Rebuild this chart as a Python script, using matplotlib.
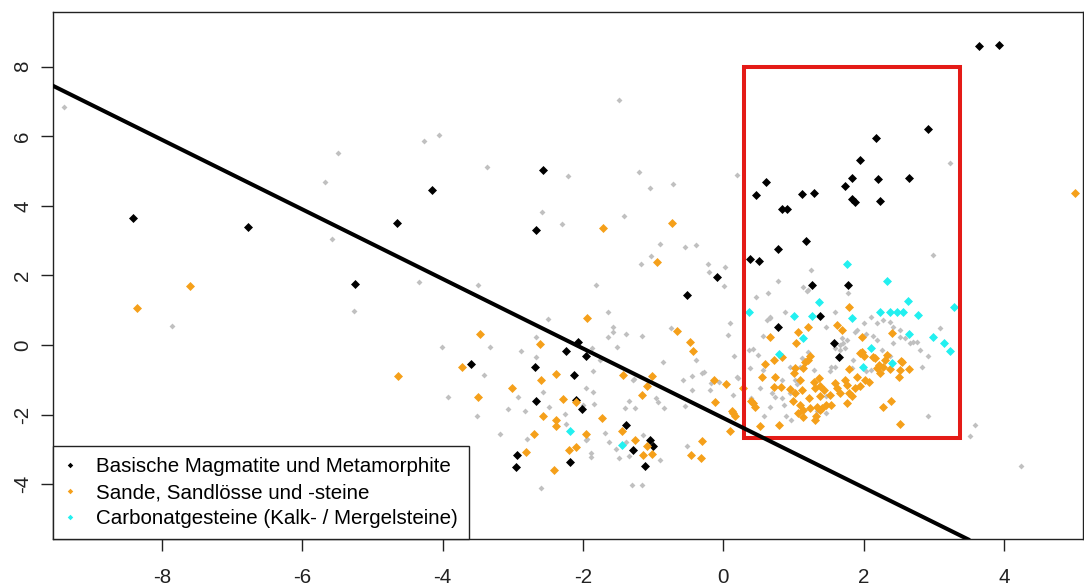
import matplotlib
matplotlib.use("Agg")
import matplotlib.pyplot as plt
from matplotlib.lines import Line2D
from matplotlib.patches import Rectangle

plt.rcParams['font.family'] = ['Liberation Sans', 'DejaVu Sans']

# ---- data -------------------------------------------------------------
other_x = [-9.39, -5.49, -5.67, -5.58, -7.86, -5.26,
           -4.26, -4.05, -3.37, -1.49, -2.22, -2.58, -2.30, -1.20, -1.05, -0.71, -1.41, 0.20,
           -0.90, -0.54, -0.39, -1.03, -1.18, -0.22, -0.20, 0.02, 0.01, -4.33, -3.50, -1.82,
           3.23, 2.99, 1.25, 0.78, 0.63, 0.46, 1.20, 1.78,
           3.59, 3.52, 4.24, 2.91, 0.10, 0.06, 0.15, 0.21, 0.43, 0.50, 0.57, 0.57, 0.52, 0.40,
           0.67, 0.74, 0.86, 0.90, 0.97, 0.83, 0.95, 1.05, 0.69, 0.83, 0.62, 0.67, 0.88, 1.14,
           1.19, 1.59, 1.47, 1.69, 1.71, 1.73, 1.66, 1.76, 1.59, 1.52, 1.47, 1.33, 1.12, 1.21,
           1.09, 0.95, 1.02, 1.29, 1.90, 2.00, 2.11, 2.19, 2.28, 2.38, 2.42, 2.52, 2.59, 2.71,
           2.80, 2.92, 2.83, 3.09, 2.04, 2.19, 2.42, 2.26, 2.11, 2.38, 1.85, 1.83, 1.59,
           -0.39, -0.28, 0.19, -0.45, -0.17, -0.44, 0.14, 0.66, 0.37, 0.38, 0.58,
           1.88, 2.76, 2.66, 2.52, 2.14, 1.66, 1.54, 1.47, 2.04,
           -4.01, -3.92, -3.51, -3.41, -3.33, -3.18, -3.07, -2.92, -2.88, -2.80, -2.83, -2.67,
           -2.57, -2.50, -2.48, -2.60, -2.24, -1.96, -1.86, -1.89, -1.89, -1.94, -2.00, -1.65,
           -1.57, -1.57, -1.38, -1.65, -1.52, -1.76, -1.27, -1.35, -1.40, -1.26, -1.69, -1.63,
           -1.53, -1.49, -1.34, -1.38, -1.14, -1.30, -1.16, -0.90, -0.96, -0.84, -0.86, -0.75,
           -0.58, -0.55, -0.52, -0.31, -0.19, -0.06,
           -2.67, -2.26, -1.95, -1.16, -1.87, -1.86, -1.84, -1.28, -0.93]
other_y = [6.85, 5.52, 4.69, 3.06, 0.54, 0.97,
           5.87, 6.05, 5.11, 7.05, 4.85, 3.82, 3.48, 4.96, 4.50, 4.62, 3.70, 4.88,
           2.91, 2.83, 2.87, 2.56, 2.34, 2.34, 2.11, 2.23, 1.69, 1.81, 1.73, 1.73,
           5.22, 2.60, 2.15, 1.84, 1.50, 1.37, 1.58, 1.50,
           -2.29, -2.63, -3.47, -2.03, 0.62, 0.29, -0.33, -0.95, -0.12, -0.29, 0.26, -0.72, -1.24, -1.53,
           -1.77, -1.50, -1.72, -2.05, -2.15, -1.53, -1.38, -1.12, -1.38, -1.00, 0.72, 0.81, 0.95, 1.67,
           1.55, 0.95, 0.52, 0.19, 0.05, -0.10, -0.14, 0.14, -0.62, -0.76, -1.48, -1.91, -0.38, -0.19,
           -0.64, -0.62, -1.00, -0.72, 0.43, 0.62, 0.81, 0.62, 0.72, 0.67, 0.52, 0.24, 0.19, 0.10,
           -0.14, -0.33, -0.62, 0.48, 0.33, 0.14, 0.05, -0.14, -0.72, -0.33, -0.43, -0.67, -0.10,
           -0.43, -0.79, -0.93, -0.89, -1.10, -1.29, -1.43, 0.77, -0.14, -0.67, -2.05,
           0.38, 0.10, 0.07, 0.43, 0.26, 0.00, -0.62, -1.96, -0.76,
           -0.05, -1.50, -2.05, -0.86, -0.05, -2.56, -1.84, -1.50, -0.16, -2.70, -1.91, 0.22,
           -1.34, 0.75, -1.79, -4.12, -2.27, -1.24, -0.74, -3.10, -3.22, -2.70, -1.72, 0.94,
           0.52, 0.38, 0.31, 0.22, -0.05, -0.43, -0.98, -1.60, -1.80, -1.80, -2.52, -2.80,
           -2.99, -3.25, -3.20, -2.79, -2.60, -4.04, -4.04, -3.32, -1.51, -1.80, -0.48, 0.48,
           -1.00, -1.75, -2.91, -0.81, -1.29, -1.05,
           -0.35, -1.99, -2.72, 0.26, -0.10, -1.34, -1.69, -1.00, -1.65]

basic_x = [-8.41, -6.78, -5.25, -4.65, -4.15, -2.57, -2.67, -3.60, -2.68, -2.67, -2.24, -2.07,
           -1.95, -2.13, -2.10, -2.01, -2.94, -2.96, -2.18, -1.39, -1.29, -1.04, -1.00, -1.11,
           -0.52, -0.09,
           3.65, 3.93, 2.91, 2.18, 1.95, 0.61, 0.46, 1.12, 1.29, 1.74, 1.84, 2.20, 2.65, 1.83,
           1.88, 2.23, 0.83, 0.91, 1.18, 0.78, 0.38, 0.51, 1.27, 1.78, 1.38, 0.78, 1.58, 1.65]
basic_y = [3.64, 3.38, 1.75, 3.50, 4.47, 5.04, 3.32, -0.54, -0.62, -1.61, -0.16, 0.09,
           -0.33, -0.85, -1.58, -1.84, -3.17, -3.52, -3.36, -2.30, -3.03, -2.72, -2.91, -3.47,
           1.43, 1.96,
           8.60, 8.64, 6.21, 5.95, 5.33, 4.69, 4.31, 4.35, 4.38, 4.58, 4.81, 4.77, 4.81, 4.19,
           4.11, 4.15, 3.90, 3.90, 2.99, 2.76, 2.46, 2.42, 1.73, 1.73, 0.83, 0.51, 0.07, -0.35]

sand_x = [-8.36, -7.60, -4.64, 5.01, -1.71, -0.73, -0.95,
          -1.94, -3.47, -2.61, -3.73, -3.49, -3.01, -2.60, -2.39, -2.28, -2.10, -2.57, -2.39,
          -2.39, -2.70, -2.81, -2.42, -2.20, -2.10, -1.96, -1.73, -1.44, -1.26, -1.09, -1.14,
          -1.01, -1.43, -1.16, -1.09, -1.01, -0.66, -0.48, -0.43, -0.13, 0.04, -0.12, 0.12,
          0.17, 0.10, -0.30, -0.46, -0.32,
          0.52, 0.80, 0.43, 0.55, 0.60, 0.72, 0.67, 0.72, 0.82, 1.01, 1.04, 1.06, 1.20, 1.14,
          1.20, 1.24, 1.12, 1.22, 1.09, 1.07, 1.14, 1.31, 1.24, 1.33, 1.40, 1.47, 1.54, 1.38,
          1.29, 1.38, 1.43, 1.31, 1.59, 1.62, 1.66, 1.73, 1.76, 1.79, 1.76, 1.83, 1.88, 1.90,
          1.79, 1.95, 2.02, 2.07, 1.95, 2.00, 1.97, 2.16, 2.19, 2.23, 2.28, 2.30, 2.33, 2.27,
          2.39, 2.52, 2.50, 2.54, 2.64, 2.52, 2.40, 1.79, 1.62, 1.69, 0.83, 0.74, 0.99, 1.52,
          1.38, 0.14, 0.28, 0.40, 0.45, 1.16, 0.95, 1.09, 1.02, 1.14, 1.32, 1.36, 1.02, 1.97,
          2.14, 2.22, 2.53, 2.38]
sand_y = [1.06, 1.69, -0.89, 4.36, 3.36, 3.52, 2.38,
          0.78, 0.32, 0.02, -0.63, -1.50, -1.24, -1.00, -0.82, -1.55, -1.65, -2.03, -2.17,
          -2.34, -2.56, -3.09, -3.59, -3.03, -2.94, -2.56, -2.10, -2.46, -2.72, -2.91, -3.15,
          -3.14, -0.86, -1.43, -1.17, -0.90, 0.40, 0.10, -0.17, -1.00, -1.13, -1.65, -1.91,
          -2.03, -2.46, -2.76, -3.17, -3.26,
          -2.34, -2.29, -1.67, -0.93, -0.54, -0.43, 0.22, -1.21, -1.21, -0.81, 0.05, 0.38, 0.52, -0.67,
          -0.43, -0.33, -1.29, -1.53, -1.72, -1.96, -2.07, -2.15, -1.81, -1.77, -1.81, -1.72, -1.72, -1.86,
          -1.05, -1.17, -1.29, -1.24, -1.10, -1.24, -1.38, -1.00, -1.15, -1.38, -1.67, -1.48, -1.24, -0.91,
          -0.70, -1.17, -1.00, -1.05, -0.24, -0.33, 0.24, -0.38, -0.67, -0.81, -0.64, -0.43, -0.29, -1.77,
          -1.62, -2.26, -0.93, -0.48, -0.70, -0.72, 0.35, 1.10, 0.57, 0.43, -0.35, -0.91, -1.62, -1.43,
          -1.48, -1.96, -1.24, -1.62, -1.77, -0.48, -1.27, -1.02, -1.37, -1.86, -2.05, -0.95, -0.67, -0.19,
          -0.35, -0.57, -0.45, -0.70]

carb_x = [-2.18, -1.44, 1.76, 2.33, 1.36, 2.63, 3.29, 2.23, 2.38, 2.47, 2.56, 2.78, 1.84,
          1.27, 1.01, 0.36, 1.14, 0.80, 2.65, 2.99, 3.14, 3.23, 2.10, 1.99, 2.41]
carb_y = [-2.46, -2.87, 2.34, 1.84, 1.23, 1.27, 1.08, 0.95, 0.95, 0.95, 0.95, 0.86, 0.79,
          0.83, 0.83, 0.95, 0.19, -0.26, 0.32, 0.24, 0.05, -0.17, -0.10, -0.64, -0.51]

group_labels = ["Basische Magmatite und Metamorphite",
                "Sande, Sandlösse und -steine",
                "Carbonatgesteine (Kalk- / Mergelsteine)"]

# separating line y = a + b*x and the highlighted window
line_a, line_b = -2.1, -1.0
box_x0, box_x1 = 0.3, 3.38
box_y0, box_y1 = -2.67, 8.0

xticks = [-8, -6, -4, -2, 0, 2, 4]
yticks = [-4, -2, 0, 2, 4, 6, 8]

# ---- styling ----------------------------------------------------------
col_other = "#c0c0c0"
col_basic = "#000000"
col_sand = "#f5a01a"
col_carb = "#22f0f0"
col_box = "#e41b17"

W, H = 1084, 588
fig = plt.figure(figsize=(W / 100, H / 100), dpi=100)
ax = fig.add_axes([52.7 / W, 1 - 539.3 / H, (1083 - 52.7) / W, (539.3 - 12.3) / H])

ax.scatter(other_x, other_y, marker="D", s=9, color=col_other, linewidths=0, zorder=2)
ax.scatter(basic_x, basic_y, marker="D", s=21, color=col_basic, linewidths=0, zorder=3)
ax.scatter(sand_x, sand_y, marker="D", s=21, color=col_sand, linewidths=0, zorder=4)
ax.scatter(carb_x, carb_y, marker="D", s=21, color=col_carb, linewidths=0, zorder=5)

ax.add_patch(Rectangle((box_x0, box_y0), box_x1 - box_x0, box_y1 - box_y0,
                       fill=False, edgecolor=col_box, linewidth=2.9, zorder=6,
                       joinstyle="miter"))
ax.axline((0, line_a), slope=line_b, color="black", linewidth=2.9, zorder=7)

ax.set_xlim(-9.557, 5.126)
ax.set_ylim(-5.587, 9.566)
ax.set_xticks(xticks)
ax.set_yticks(yticks)
ax.set_xticklabels([str(v) for v in xticks])
ax.set_yticklabels([str(v) for v in yticks], rotation=90, va="center")

for sp in ax.spines.values():
    sp.set_linewidth(1.0)
    sp.set_color("#222222")
ax.tick_params(axis="both", length=8.8, width=1.0, color="#222222",
               labelsize=14.8, labelcolor="#222222")
ax.tick_params(axis="x", pad=12)
ax.tick_params(axis="y", pad=6)

handles = [Line2D([], [], linestyle="none", marker="D", markersize=2.8,
                  markerfacecolor=c, markeredgewidth=0)
           for c in (col_basic, col_sand, col_carb)]
leg = ax.legend(handles, group_labels, loc="lower left", bbox_to_anchor=(0, 0),
                borderaxespad=0, fontsize=14.8, frameon=True, fancybox=False,
                framealpha=1, edgecolor="#222222", borderpad=0.55,
                handlelength=0.62, handletextpad=0.94, labelspacing=0.33)
leg.get_frame().set_linewidth(1.0)
leg.set_zorder(10)

fig.savefig("out.png", dpi=100)
